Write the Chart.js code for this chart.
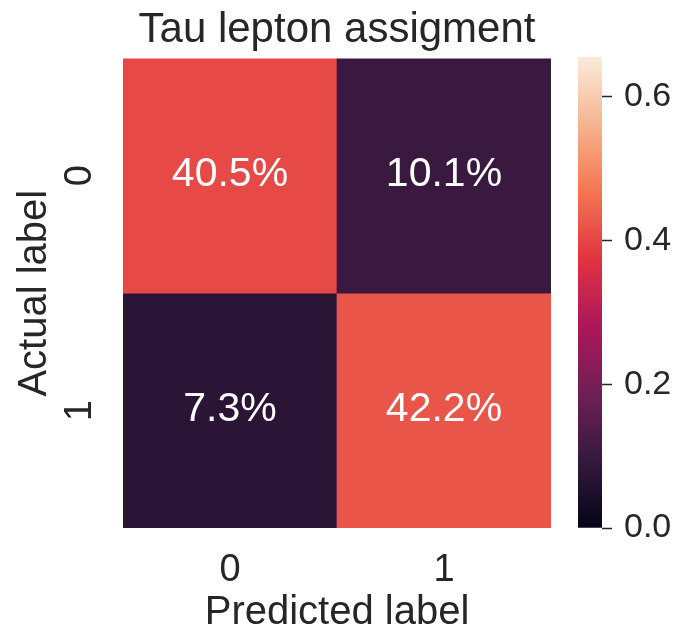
<!DOCTYPE html>
<html>
<head>
<meta charset="utf-8">
<script src="https://cdn.jsdelivr.net/npm/chart.js@4/dist/chart.umd.min.js"></script>
<style>
  html, body { margin: 0; padding: 0; background: #fff; overflow: hidden; width: 679px; height: 629px; }
  #heat { position: absolute; left: 0; top: 0; }
  #scaleBar { position: absolute; left: 560px; top: 0; }
</style>
</head>
<body>
<canvas id="heat" width="570" height="637"></canvas>
<canvas id="scaleBar" width="119" height="629"></canvas>
<script>
// Confusion matrix (fractions of all events)
const predictedLabels = ['0', '1'];
const actualLabels = ['0', '1'];
const actual0Row = [0.405, 0.101];
const actual1Row = [0.073, 0.422];
const colorbarMax = 0.655;
const colorbarTicks = [0, 0.2, 0.4, 0.6];
const titleText = 'Tau lepton assigment';
const xTitle = 'Predicted label';
const yTitle = 'Actual label';

const FONT = '"Liberation Sans", Arial, sans-serif';
const INK = '#262626';

// "rocket" colormap stops
const rocketStops = [
  [0.0,   [3, 5, 26]],
  [1 / 7, [53, 25, 62]],
  [2 / 7, [112, 31, 87]],
  [3 / 7, [173, 23, 89]],
  [4 / 7, [225, 51, 66]],
  [5 / 7, [243, 118, 81]],
  [6 / 7, [246, 180, 143]],
  [1.0,   [250, 235, 221]]
];
function rocket(t) {
  t = Math.max(0, Math.min(1, t));
  for (let i = 1; i < rocketStops.length; i++) {
    const [p1, c1] = rocketStops[i];
    const [p0, c0] = rocketStops[i - 1];
    if (t <= p1) {
      const f = (t - p0) / (p1 - p0);
      const c = c0.map((v, k) => Math.round(v + (c1[k] - v) * f));
      return `rgb(${c[0]},${c[1]},${c[2]})`;
    }
  }
  const c = rocketStops[rocketStops.length - 1][1];
  return `rgb(${c[0]},${c[1]},${c[2]})`;
}

const rows = [actual0Row, actual1Row];

// Writes the percentage into the middle of every cell
const cellLabels = {
  id: 'cellLabels',
  afterDatasetsDraw(chart) {
    const ctx = chart.ctx;
    ctx.save();
    ctx.fillStyle = '#ffffff';
    ctx.font = `41px ${FONT}`;
    ctx.textAlign = 'center';
    ctx.textBaseline = 'alphabetic';
    chart.data.datasets.forEach((ds, di) => {
      const meta = chart.getDatasetMeta(di);
      meta.data.forEach((bar, j) => {
        const cy = (bar.y + bar.base) / 2;
        ctx.fillText((ds.values[j] * 100).toFixed(1) + '%', bar.x, cy + 10);
      });
    });
    ctx.restore();
  }
};

new Chart(document.getElementById('heat'), {
  type: 'bar',
  data: {
    labels: predictedLabels,
    datasets: rows.map((r, i) => ({
      label: actualLabels[i],
      data: r.map(() => 1),
      values: r,
      backgroundColor: r.map(v => rocket(v / colorbarMax)),
      borderWidth: 0,
      barPercentage: 1,
      categoryPercentage: 1
    }))
  },
  options: {
    responsive: false,
    animation: false,
    devicePixelRatio: 1,
    layout: { padding: { right: 19 } },
    plugins: {
      legend: { display: false },
      tooltip: { enabled: false },
      title: {
        display: true,
        text: titleText,
        fullSize: false,
        color: INK,
        font: { family: FONT, size: 42, weight: 'normal', lineHeight: 1.2 },
        padding: { top: 5, bottom: 3 }
      }
    },
    scales: {
      x: {
        stacked: true,
        grid: { display: false },
        border: { display: false },
        ticks: { color: INK, font: { family: FONT, size: 38 }, padding: 12 },
        title: {
          display: true, text: xTitle, color: INK,
          font: { family: FONT, size: 40, lineHeight: 1.2 },
          padding: { top: 0, bottom: 0 }
        },
        afterFit(s) { s.height = 109; }
      },
      y: {
        stacked: true,
        min: 0, max: 2,
        reverse: true,
        grid: { display: false },
        border: { display: false },
        afterBuildTicks(s) { s.ticks = [{ value: 0.5 }, { value: 1.5 }]; },
        ticks: {
          color: INK,
          font: { family: FONT, size: 38 },
          minRotation: 90, maxRotation: 90,
          crossAlign: 'center',
          padding: 24,
          callback: (v, i) => actualLabels[i]
        },
        title: {
          display: true, text: yTitle, color: INK,
          font: { family: FONT, size: 40, lineHeight: 1.2 },
          padding: { top: 11, bottom: 0 }
        },
        afterFit(s) { s.width = 123; }
      }
    }
  },
  plugins: [cellLabels]
});

// Colour bar: one full-height bar filled with the colormap, value axis on the right
new Chart(document.getElementById('scaleBar'), {
  type: 'bar',
  data: {
    labels: [''],
    datasets: [{
      data: [colorbarMax],
      borderWidth: 0,
      barPercentage: 1,
      categoryPercentage: 1,
      backgroundColor(ctx) {
        const area = ctx.chart.chartArea;
        if (!area) return rocket(0.5);
        const g = ctx.chart.ctx.createLinearGradient(0, area.bottom, 0, area.top);
        rocketStops.forEach(([p, c]) => g.addColorStop(p, `rgb(${c[0]},${c[1]},${c[2]})`));
        return g;
      }
    }]
  },
  options: {
    responsive: false,
    animation: false,
    devicePixelRatio: 1,
    layout: { padding: { left: 18, top: 57, bottom: 101 } },
    plugins: { legend: { display: false }, tooltip: { enabled: false } },
    scales: {
      x: { display: false },
      y: {
        position: 'right',
        min: 0, max: colorbarMax,
        afterBuildTicks(s) { s.ticks = colorbarTicks.map(v => ({ value: v })); },
        border: { display: false },
        grid: { drawOnChartArea: false, drawTicks: true, tickLength: 10, tickWidth: 1.5, tickColor: INK },
        ticks: {
          color: INK,
          font: { family: FONT, size: 34 },
          padding: 12,
          callback: v => v.toFixed(1)
        },
        afterFit(s) { s.width = 77; }
      }
    }
  }
});
</script>
</body>
</html>
